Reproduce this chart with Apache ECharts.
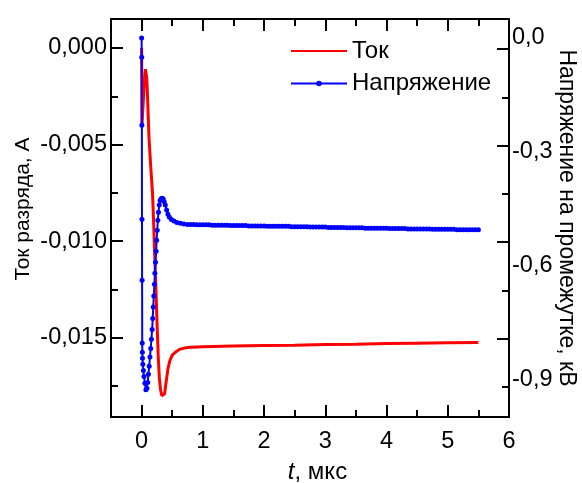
<!DOCTYPE html>
<html><head><meta charset="utf-8">
<script src="https://cdn.jsdelivr.net/npm/echarts@6/dist/echarts.min.js"></script>
<style>html,body{margin:0;padding:0;background:#fff}#c{width:582px;height:483px}</style>
</head><body><div id="c"></div>
<script>
// Current (Ток), A, vs time, us
const timeCurrent = [0, 0.006, 0.04, 0.062, 0.072, 0.085, 0.10, 0.12, 0.15, 0.178, 0.195, 0.21, 0.234, 0.255, 0.272, 0.29, 0.31, 0.33, 0.354, 0.375, 0.40, 0.43, 0.46, 0.50, 0.55, 0.62, 0.7, 0.8, 1.0, 1.5, 2.0, 2.5, 3.0, 3.5, 4.0, 4.5, 5.0, 5.5];
const current = [0.0, -0.0040, -0.0020, -0.0011, -0.0010, -0.0016, -0.0028, -0.0046, -0.0062, -0.0075, -0.0089, -0.0104, -0.0125, -0.0145, -0.0160, -0.0171, -0.0177, -0.0180, -0.0181, -0.0179, -0.0173, -0.0166, -0.0162, -0.0159, -0.01575, -0.0156, -0.01553, -0.01549, -0.01546, -0.01543, -0.0154, -0.01538, -0.01535, -0.01533, -0.0153, -0.01528, -0.01526, -0.01524];
// Voltage (Напряжение), kV, vs time, us
const timeVoltage = [0, 0.002, 0.004, 0.006, 0.008, 0.010, 0.012, 0.014, 0.020, 0.029, 0.038, 0.054, 0.070, 0.087, 0.100, 0.111, 0.124, 0.136, 0.149, 0.160, 0.172, 0.181, 0.190, 0.199, 0.209, 0.217, 0.227, 0.237, 0.245, 0.255, 0.265, 0.275, 0.288, 0.302, 0.319, 0.335, 0.353, 0.369, 0.387, 0.408, 0.430, 0.454, 0.487, 0.528, 0.577, 0.634, 0.69, 0.75, 0.8, 0.85, 0.9, 0.95,
  1.0, 1.05, 1.1, 1.15, 1.2, 1.25, 1.3, 1.35, 1.4, 1.45, 1.5, 1.55, 1.6, 1.65, 1.7, 1.75, 1.8, 1.85, 1.9, 1.95,
  2.0, 2.05, 2.1, 2.15, 2.2, 2.25, 2.3, 2.35, 2.4, 2.45, 2.5, 2.55, 2.6, 2.65, 2.7, 2.75, 2.8, 2.85, 2.9, 2.95,
  3.0, 3.05, 3.1, 3.15, 3.2, 3.25, 3.3, 3.35, 3.4, 3.45, 3.5, 3.55, 3.6, 3.65, 3.7, 3.75, 3.8, 3.85, 3.9, 3.95,
  4.0, 4.05, 4.1, 4.15, 4.2, 4.25, 4.3, 4.35, 4.4, 4.45, 4.5, 4.55, 4.6, 4.65, 4.7, 4.75, 4.8, 4.85, 4.9, 4.95,
  5.0, 5.05, 5.1, 5.15, 5.2, 5.25, 5.3, 5.35, 5.4, 5.45, 5.5];
const voltage = [0.0, -0.051, -0.230, -0.478, -0.639, -0.805, -0.829, -0.845, -0.861, -0.877, -0.893, -0.911, -0.928, -0.924, -0.909, -0.887, -0.866, -0.842, -0.819, -0.795, -0.769, -0.740, -0.710, -0.681, -0.650, -0.621, -0.592, -0.563, -0.534, -0.507, -0.481, -0.460, -0.441, -0.429, -0.424, -0.423, -0.425, -0.432, -0.441, -0.454, -0.465, -0.473, -0.479, -0.483, -0.487, -0.489, -0.491, -0.492, -0.492, -0.492, -0.493, -0.493,
  -0.493, -0.493, -0.493, -0.494, -0.494, -0.494, -0.494, -0.494, -0.494, -0.495, -0.495, -0.495, -0.495, -0.495, -0.495, -0.496, -0.496, -0.496, -0.496, -0.496,
  -0.496, -0.497, -0.497, -0.497, -0.497, -0.497, -0.497, -0.497, -0.497, -0.498, -0.498, -0.498, -0.498, -0.498, -0.498, -0.499, -0.499, -0.499, -0.499, -0.499,
  -0.499, -0.500, -0.500, -0.500, -0.500, -0.500, -0.500, -0.501, -0.501, -0.501, -0.501, -0.501, -0.501, -0.502, -0.502, -0.502, -0.502, -0.502, -0.502, -0.502,
  -0.502, -0.503, -0.503, -0.503, -0.503, -0.503, -0.503, -0.504, -0.504, -0.504, -0.504, -0.504, -0.504, -0.504, -0.504, -0.505, -0.505, -0.505, -0.505, -0.505,
  -0.505, -0.505, -0.505, -0.506, -0.506, -0.506, -0.506, -0.506, -0.506, -0.506, -0.506];

const xTicks = [0, 1, 2, 3, 4, 5, 6];
const xMinorTicks = [0.5, 1.5, 2.5, 3.5, 4.5, 5.5];
const currentTicks = [0, -0.005, -0.010, -0.015];
const currentMinorTicks = [-0.0025, -0.0075, -0.0125, -0.0175];
const voltageLabels = [0, -0.3, -0.6, -0.9];
const voltageTickMarks = [0, -0.3, -0.6, -0.9];
const voltageMinorTickMarks = [-0.15, -0.45, -0.75, -1.05];

const FONT = 'Liberation Sans, Arial, sans-serif';
const black = '#000';
function fmt(d) {
  return function (v) {
    let n = v;
    if (typeof n !== 'number') n = parseFloat(n && n.value != null ? n.value : n);
    return isNaN(n) ? '' : n.toFixed(d).replace('.', ',');
  };
}
function axLine(show) { return {show: show, onZero: false, lineStyle: {color: black, width: 2}}; }
function ticks(values, len) {
  return {show: true, inside: true, length: len, customValues: values, lineStyle: {color: black, width: 2}};
}
function tickAxis(base, values, len, showLine) {
  return Object.assign({
    type: 'value', gridIndex: 1, axisLine: axLine(showLine),
    axisTick: ticks(values, len),
    axisLabel: {show: false}, splitLine: {show: false}
  }, base);
}

const chart = echarts.init(document.getElementById('c'));
chart.setOption({
  animation: false,
  grid: [
    {left: 111, right: 73, top: 19, bottom: 66, outerBoundsMode: 'none'},
    {left: 111, right: 73, top: 19, bottom: 66, outerBoundsMode: 'none'}
  ],
  legend: {
    orient: 'vertical', left: 285, top: 34, itemWidth: 56, itemHeight: 7, itemGap: 8.5,
    textStyle: {fontFamily: FONT, fontSize: 24, color: black, lineHeight: 24},
    data: [{name: 'Ток', itemStyle: {opacity: 0}}, {name: 'Напряжение'}]
  },
  xAxis: [
    {
      type: 'value', gridIndex: 0, position: 'bottom', min: -0.5, max: 6,
      axisLine: axLine(true),
      axisTick: {show: false},
      axisLabel: {customValues: xTicks, fontSize: 23.5, color: black, fontFamily: FONT, margin: 13},
      splitLine: {show: false},
      name: '{i|t}, мкс', nameLocation: 'middle', nameGap: 43, nameMoveOverlap: false,
      nameTextStyle: {fontSize: 24, color: black, fontFamily: FONT, padding: [0, 0, 0, 15],
        rich: {i: {fontStyle: 'italic', fontSize: 24, fontFamily: FONT, color: black}}}
    },
    tickAxis({position: 'bottom', min: -0.5, max: 6}, xTicks, 12, true),
    tickAxis({position: 'bottom', min: -0.5, max: 6}, xMinorTicks, 7, false),
    tickAxis({position: 'top', min: -0.5, max: 6}, xTicks, 12, true),
    tickAxis({position: 'top', min: -0.5, max: 6}, xMinorTicks, 7, false)
  ],
  yAxis: [
    {
      type: 'value', gridIndex: 0, position: 'left', min: -0.0191, max: 0.0015,
      axisLine: axLine(true),
      axisTick: {show: false},
      axisLabel: {customValues: currentTicks, fontSize: 23.5, color: black, fontFamily: FONT, margin: 4,
        formatter: fmt(3)},
      splitLine: {show: false},
      name: 'Ток разряда, А', nameLocation: 'middle', nameGap: 77, nameMoveOverlap: false,
      nameTextStyle: {fontSize: 21, color: black, fontFamily: FONT, padding: [0, 0, 0, 18]}
    },
    {
      type: 'value', gridIndex: 0, position: 'right', min: -1.0, max: 0.05,
      axisLine: axLine(true),
      axisTick: {show: false},
      axisLabel: {customValues: voltageLabels, fontSize: 23.5, color: black, fontFamily: FONT, margin: 3,
        formatter: fmt(1)},
      splitLine: {show: false},
      name: 'Напряжение на промежутке, кВ', nameLocation: 'middle', nameGap: 46, nameRotate: -90,
      nameMoveOverlap: false,
      nameTextStyle: {fontSize: 23, color: black, fontFamily: FONT}
    },
    tickAxis({position: 'left', min: -0.0191, max: 0.0015}, currentTicks, 12, true),
    tickAxis({position: 'left', min: -0.0191, max: 0.0015}, currentMinorTicks, 7, false),
    tickAxis({position: 'right', min: -1.143, max: 0.0934}, voltageTickMarks, 12, true),
    tickAxis({position: 'right', min: -1.143, max: 0.0934}, voltageMinorTickMarks, 7, false)
  ],
  series: [
    {
      name: 'Ток', type: 'line', xAxisIndex: 0, yAxisIndex: 0,
      data: timeCurrent.map((t, i) => [t, current[i]]),
      symbol: 'none', color: '#ff0000',
      lineStyle: {color: '#ff0000', width: 3}, z: 2
    },
    {
      name: 'Напряжение', type: 'line', xAxisIndex: 0, yAxisIndex: 1,
      data: timeVoltage.map((t, i) => [t, voltage[i]]),
      symbol: 'circle', symbolSize: 5, showAllSymbol: true, color: '#0000ff',
      itemStyle: {color: '#0000ff'},
      lineStyle: {color: '#0000ff', width: 2}, z: 3
    }
  ]
});
</script></body></html>
